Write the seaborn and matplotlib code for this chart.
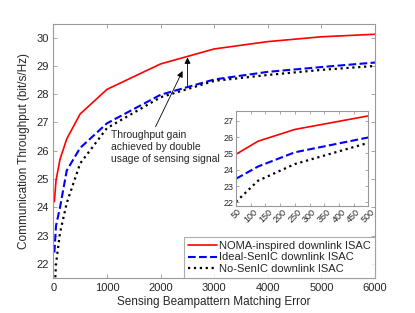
import numpy as np
import pandas as pd
import seaborn as sns
import matplotlib.pyplot as plt

# values
error_main = [20, 50, 125, 250, 500, 1000, 2000, 3000, 4000, 5000, 6000]
noma_main = [24.2, 24.95, 25.7, 26.42, 27.3, 28.17, 29.07, 29.6, 29.86, 30.03, 30.12]
ideal_main = [22.4, 23.35, 24.0, 25.3, 26.1, 26.97, 27.98, 28.52, 28.79, 28.96, 29.12]
nosic_main = [20.9, 22.0, 23.1, 24.15, 25.55, 26.8, 27.89, 28.47, 28.68, 28.86, 29.0]

error_zoom = [50, 125, 250, 500]
noma_zoom = [24.95, 25.75, 26.47, 27.3]
ideal_zoom = [23.45, 24.2, 25.07, 25.98]
nosic_zoom = [22.04, 23.33, 24.35, 25.65]

labels = ['NOMA-inspired downlink ISAC', 'Ideal-SenIC downlink ISAC', 'No-SenIC downlink ISAC']
xticks_main = [0, 1000, 2000, 3000, 4000, 5000, 6000]
yticks_main = [22, 23, 24, 25, 26, 27, 28, 29, 30]
xticks_zoom = [50, 100, 150, 200, 250, 300, 350, 400, 450, 500]
yticks_zoom = [22, 23, 24, 25, 26, 27]

sns.set_style('white')
plt.rcParams['font.family'] = ['Liberation Sans', 'DejaVu Sans']
axcol = '0.6'
txtcol = '#262626'

styles = [dict(color='red', linestyle='-', linewidth=1.2),
          dict(color='blue', linestyle='--', linewidth=1.5, dashes=(4, 3)),
          dict(color='black', linestyle=':', linewidth=1.6)]


def style_axes(ax, fs):
    for s in ax.spines.values():
        s.set_color(axcol)
        s.set_linewidth(0.8)
    ax.tick_params(direction='in', length=3, width=0.6, color=axcol,
                   labelcolor=txtcol, labelsize=fs, top=True, right=True,
                   bottom=True, left=True)


fig = plt.figure(figsize=(4.15, 3.13), dpi=100)
ax = fig.add_axes([0.1285, 0.1118, 0.7751, 0.8131])

main_series = [noma_main, ideal_main, nosic_main]
for vals, lab, st in zip(main_series, labels, styles):
    df = pd.DataFrame({'x': error_main, 'y': vals})
    sns.lineplot(data=df, x='x', y='y', ax=ax, label=lab, **st)

ax.set_xlim(0, 6000)
ax.set_ylim(21.5, 30.5)
ax.set_xticks(xticks_main)
ax.set_yticks(yticks_main)
style_axes(ax, 8)
ax.set_xlabel('Sensing Beampattern Matching Error', fontsize=8.5, color=txtcol, labelpad=2)
ax.set_ylabel('Communication Throughput (bit/s/Hz)', fontsize=8.5, color=txtcol, labelpad=4)

leg = ax.legend(loc='lower right', borderaxespad=0, fontsize=8, handlelength=2.6,
                handletextpad=0.2, labelspacing=0.15, borderpad=0.35, frameon=True,
                fancybox=False)
leg.get_frame().set_edgecolor(axcol)
leg.get_frame().set_linewidth(0.8)
for t in leg.get_texts():
    t.set_color(txtcol)

# annotation
ax.text(1069, 26.72, 'Throughput gain\nachieved by double\nusage of sensing signal',
        fontsize=7.5, color=txtcol, va='top', ha='left', linespacing=1.25)
ax.annotate('', xy=(2410, 28.82), xytext=(1907, 26.85),
            arrowprops=dict(arrowstyle='-|>', color='black', lw=0.6,
                            mutation_scale=9, shrinkA=0, shrinkB=0))
ax.annotate('', xy=(2503, 29.3), xytext=(2503, 28.29),
            arrowprops=dict(arrowstyle='-|>', color='black', lw=0.6,
                            mutation_scale=9, shrinkA=0, shrinkB=0))

# inset
axin = fig.add_axes([0.5687, 0.3428, 0.3188, 0.3026])
zoom_series = [noma_zoom, ideal_zoom, nosic_zoom]
for vals, st in zip(zoom_series, styles):
    df = pd.DataFrame({'x': error_zoom, 'y': vals})
    sns.lineplot(data=df, x='x', y='y', ax=axin, legend=False, **st)
axin.set_xlim(50, 500)
axin.set_ylim(21.8, 27.6)
axin.set_xticks(xticks_zoom)
axin.set_yticks(yticks_zoom)
axin.set_xlabel('')
axin.set_ylabel('')
style_axes(axin, 6.5)
axin.tick_params(length=2)
for lbl in axin.get_xticklabels():
    lbl.set_rotation(45)
    lbl.set_ha('center')
axin.tick_params(axis='x', pad=1)
axin.tick_params(axis='y', pad=2)

fig.savefig('out.png', dpi=100)
